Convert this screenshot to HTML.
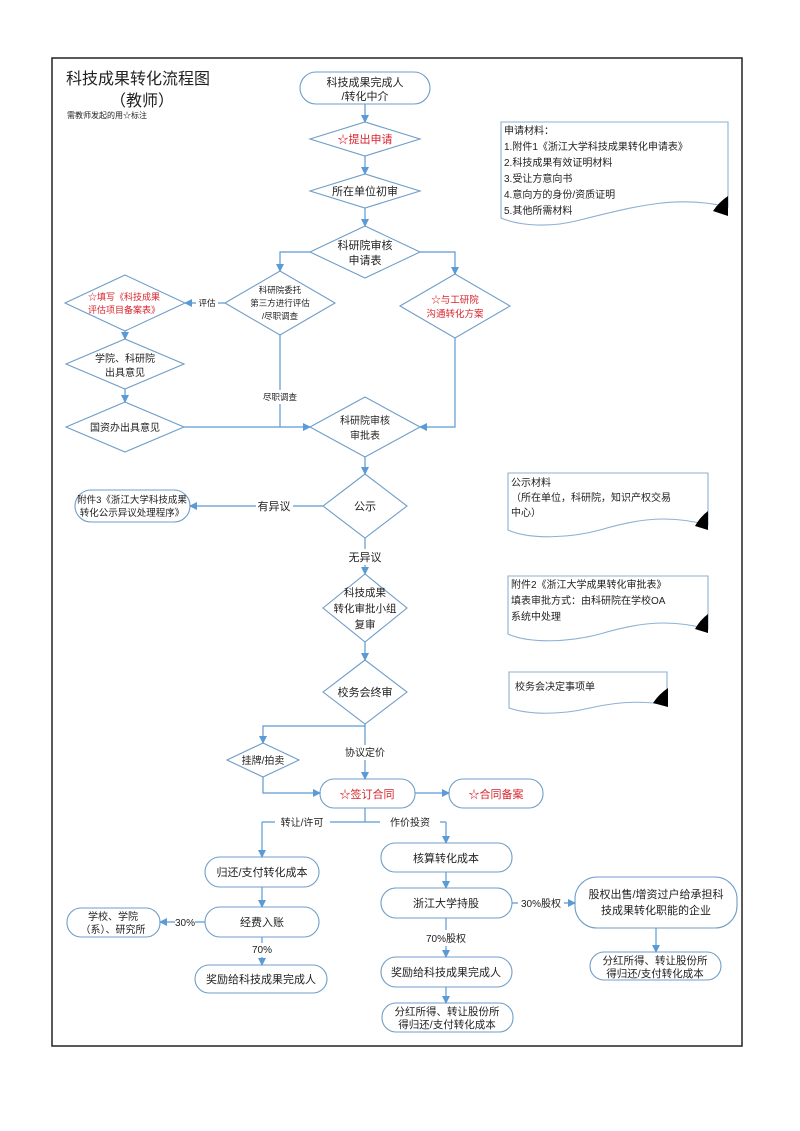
<!DOCTYPE html>
<html><head><meta charset="utf-8"><style>
html,body{margin:0;padding:0;background:#fff;}
svg{display:block;}
text{font-family:"Liberation Sans","Noto Sans CJK SC",sans-serif;fill:#222;}
.r{fill:#d9232d;}
</style></head><body>
<svg width="800" height="1131" viewBox="0 0 800 1131" xmlns="http://www.w3.org/2000/svg">
<defs>
<marker id="a" markerWidth="8" markerHeight="8" refX="7" refY="4" orient="auto" markerUnits="userSpaceOnUse">
<path d="M0,0 L8,4 L0,8 Z" fill="#5b9bd5"/></marker>
</defs>
<rect x="52" y="58" width="690" height="988" fill="none" stroke="#222" stroke-width="1.5"/>
<text x="66" y="84" font-size="16">科技成果转化流程图</text>
<text x="110" y="106" font-size="16">（教师）</text>
<text x="67" y="118" font-size="8">需教师发起的用☆标注</text>

<g fill="none" stroke="#6f9dc8" stroke-width="1.1">
<rect x="300" y="72" width="130" height="32" rx="16"/>
<polygon points="310,139 365,122 420,139 365,156"/>
<polygon points="310,191 365,174 420,191 365,208"/>
<polygon points="310,252 365,226 420,252 365,278"/>
<polygon points="225,303 280,271 335,303 280,335"/>
<polygon points="400,306 455,274 510,306 455,338"/>
<polygon points="65,303 125,275 185,303 125,331"/>
<polygon points="66,364 125,339 184,364 125,389"/>
<polygon points="66,427 125,402 184,427 125,452"/>
<polygon points="310,427 365,397 420,427 365,457"/>
<polygon points="323,506 365,474 407,506 365,538"/>
<rect x="75" y="490" width="115" height="32" rx="16"/>
<polygon points="323,608 365,574 407,608 365,642"/>
<polygon points="323,692 365,660 407,692 365,724"/>
<polygon points="227,760 263,743 299,760 263,777"/>
<rect x="320" y="779" width="95" height="29" rx="14"/>
<rect x="449" y="779" width="94" height="29" rx="14"/>
<rect x="205" y="857" width="114" height="30" rx="15"/>
<rect x="205" y="907" width="114" height="30" rx="15"/>
<rect x="67" y="908" width="93" height="29" rx="14"/>
<rect x="195" y="965" width="132" height="28" rx="14"/>
<rect x="381" y="843" width="131" height="29" rx="14"/>
<rect x="381" y="888" width="131" height="30" rx="15"/>
<rect x="575" y="877" width="162" height="51" rx="22"/>
<rect x="590" y="952" width="131" height="28" rx="14"/>
<rect x="381" y="957" width="131" height="30" rx="15"/>
<rect x="382" y="1003" width="131" height="29" rx="14"/>
</g>

<g fill="none" stroke="#5b9bd5" stroke-width="1.2">
<path d="M365,104 V122" marker-end="url(#a)"/>
<path d="M365,156 V174" marker-end="url(#a)"/>
<path d="M365,208 V226" marker-end="url(#a)"/>
<path d="M310,252 H280 V271" marker-end="url(#a)"/>
<path d="M420,252 H455 V274" marker-end="url(#a)"/>
<path d="M225,303 H218 M196,303 H185" marker-end="url(#a)"/>
<path d="M125,331 V339" marker-end="url(#a)"/>
<path d="M125,389 V402" marker-end="url(#a)"/>
<path d="M184,427 H310" marker-end="url(#a)"/>
<path d="M280,335 V390 M280,404 V427"/>
<path d="M455,338 V427 H420" marker-end="url(#a)"/>
<path d="M365,457 V474" marker-end="url(#a)"/>
<path d="M323,506 H293 M256,506 H190" marker-end="url(#a)"/>
<path d="M365,538 V549 M365,565 V574" marker-end="url(#a)"/>
<path d="M365,642 V660" marker-end="url(#a)"/>
<path d="M365,724 V745 M365,760 V779" marker-end="url(#a)"/>
<path d="M365,726 H263 V743" marker-end="url(#a)"/>
<path d="M263,777 V793 H320" marker-end="url(#a)"/>
<path d="M415,793 H449" marker-end="url(#a)"/>
<path d="M365,808 V822 M262,822 H275 M330,822 H380 M440,822 H446"/>
<path d="M262,822 V857" marker-end="url(#a)"/>
<path d="M446,822 V843" marker-end="url(#a)"/>
<path d="M262,887 V907" marker-end="url(#a)"/>
<path d="M205,922 H195 M175,922 H160" marker-end="url(#a)"/>
<path d="M262,937 V943 M262,957 V965" marker-end="url(#a)"/>
<path d="M446,872 V888" marker-end="url(#a)"/>
<path d="M512,903 H518 M564,903 H575" marker-end="url(#a)"/>
<path d="M656,928 V952" marker-end="url(#a)"/>
<path d="M446,918 V930 M446,946 V957" marker-end="url(#a)"/>
<path d="M446,987 V1003" marker-end="url(#a)"/>
</g>

<g fill="none" stroke="#8db0d2" stroke-width="1.1">
<path d="M501,122 H728 V207 C680,195 640,205 580,220 C550,228 520,226 501,218 Z"/>
<path d="M508,473 H708 V525 C670,515 640,518 600,530 C570,538 530,540 508,530 Z"/>
<path d="M508,576 H708 V629 C670,619 640,622 600,634 C570,642 530,644 508,634 Z"/>
<path d="M509,672 H667 V705 C640,700 615,702 590,708 C560,715 530,715 509,708 Z"/>
</g>
<g fill="#000">
<path d="M728,196 V216 L713,211 Q719,202 728,196 Z"/>
<path d="M708,511 V530 L695,526 Q700,517 708,511 Z"/>
<path d="M708,614 V633 L695,629 Q700,620 708,614 Z"/>
<path d="M668,688 V707 L653,703 Q659,694 668,688 Z"/>
</g>

<g font-size="11" text-anchor="middle">
<text x="365" y="86">科技成果完成人</text>
<text x="365" y="100">/转化中介</text>
<text x="365" y="143" class="r">☆提出申请</text>
<text x="365" y="195">所在单位初审</text>
<text x="365" y="249">科研院审核</text>
<text x="365" y="264">申请表</text>
<text x="280" y="293" font-size="8.5">科研院委托</text>
<text x="280" y="306" font-size="8.5">第三方进行评估</text>
<text x="280" y="319" font-size="8.5">/尽职调查</text>
<text x="455" y="303" class="r" font-size="9.5">☆与工研院</text>
<text x="455" y="317" class="r" font-size="9.5">沟通转化方案</text>
<text x="124" y="300" class="r" font-size="9">☆填写《科技成果</text>
<text x="124" y="313" class="r" font-size="9">评估项目备案表》</text>
<text x="207" y="306" font-size="8.5">评估</text>
<text x="125" y="362" font-size="10">学院、科研院</text>
<text x="125" y="376" font-size="10">出具意见</text>
<text x="125" y="431" font-size="10">国资办出具意见</text>
<text x="280" y="400" font-size="8.5">尽职调查</text>
<text x="365" y="424" font-size="10">科研院审核</text>
<text x="365" y="439" font-size="10">审批表</text>
<text x="365" y="510">公示</text>
<text x="132" y="503" font-size="9.5">附件3《浙江大学科技成果</text>
<text x="132" y="516" font-size="9.5">转化公示异议处理程序》</text>
<text x="274" y="510">有异议</text>
<text x="365" y="561">无异议</text>
<text x="365" y="596" font-size="10.5">科技成果</text>
<text x="365" y="612" font-size="10.5">转化审批小组</text>
<text x="365" y="628" font-size="10.5">复审</text>
<text x="365" y="696">校务会终审</text>
<text x="263" y="764" font-size="10">挂牌/拍卖</text>
<text x="365" y="756" font-size="10">协议定价</text>
<text x="367" y="798" class="r">☆签订合同</text>
<text x="496" y="798" class="r">☆合同备案</text>
<text x="302" y="826" font-size="10">转让/许可</text>
<text x="410" y="826" font-size="10">作价投资</text>
<text x="262" y="876">归还/支付转化成本</text>
<text x="262" y="926">经费入账</text>
<text x="113" y="920" font-size="10">学校、学院</text>
<text x="113" y="933" font-size="10">（系）、研究所</text>
<text x="185" y="926" font-size="10">30%</text>
<text x="262" y="953" font-size="10">70%</text>
<text x="261" y="983">奖励给科技成果完成人</text>
<text x="446" y="862">核算转化成本</text>
<text x="446" y="907">浙江大学持股</text>
<text x="541" y="907" font-size="10">30%股权</text>
<text x="656" y="898">股权出售/增资过户给承担科</text>
<text x="656" y="914">技成果转化职能的企业</text>
<text x="446" y="942" font-size="10">70%股权</text>
<text x="446" y="976">奖励给科技成果完成人</text>
<text x="655" y="964" font-size="10.5">分红所得、转让股份所</text>
<text x="655" y="977" font-size="10.5">得归还/支付转化成本</text>
<text x="447" y="1015" font-size="10.5">分红所得、转让股份所</text>
<text x="447" y="1028" font-size="10.5">得归还/支付转化成本</text>
</g>
<g font-size="10">
<text x="504" y="134">申请材料：</text>
<text x="504" y="150">1.附件1《浙江大学科技成果转化申请表》</text>
<text x="504" y="166">2.科技成果有效证明材料</text>
<text x="504" y="182">3.受让方意向书</text>
<text x="504" y="198">4.意向方的身份/资质证明</text>
<text x="504" y="214">5.其他所需材料</text>
<text x="511" y="486">公示材料</text>
<text x="511" y="501">（所在单位，科研院，知识产权交易</text>
<text x="511" y="516">中心）</text>
<text x="511" y="588">附件2《浙江大学成果转化审批表》</text>
<text x="511" y="604">填表审批方式：由科研院在学校OA</text>
<text x="511" y="620">系统中处理</text>
<text x="515" y="690">校务会决定事项单</text>
</g>
</svg>
</body></html>
